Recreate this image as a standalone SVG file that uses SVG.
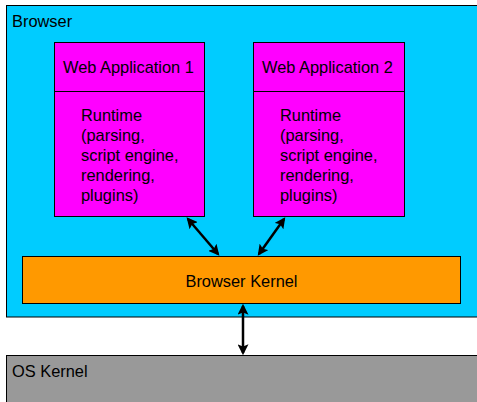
<svg xmlns="http://www.w3.org/2000/svg" width="477" height="402" viewBox="0 0 477 402">
<defs>
<marker id="ah" viewBox="0 0 10 10" refX="8" refY="5" markerWidth="4.4" markerHeight="4.4" orient="auto-start-reverse" markerUnits="strokeWidth">
<path d="M0,0 L10,5 L0,10 L2,5 z" fill="#000"/>
</marker>
<style>
text{font-family:"Liberation Sans",Arial,sans-serif;font-size:16.4px;fill:#000}
.box{stroke:#000;stroke-width:1}
.con{stroke:#000;stroke-width:2.5;fill:none;marker-start:url(#ah);marker-end:url(#ah)}
</style>
</defs>
<rect width="477" height="402" fill="#fff"/>
<g id="os-kernel">
<rect class="box" x="6.5" y="355.5" width="480" height="60" fill="#999999"/>
<text x="12" y="377">OS Kernel</text>
</g>
<g id="browser">
<rect class="box" x="6.5" y="5.5" width="480" height="311.5" fill="#00CCFF"/>
<text x="12" y="27">Browser</text>
</g>
<g id="web-app-1">
<rect class="box" x="54.5" y="42.5" width="150" height="174" fill="#FF00FF"/>
<line class="box" x1="54.5" y1="91.5" x2="204.5" y2="91.5"/>
<text x="63" y="73">Web Application 1</text>
<text x="81" y="121">Runtime</text>
<text x="81" y="141">(parsing,</text>
<text x="81" y="161">script engine,</text>
<text x="81" y="181">rendering,</text>
<text x="81" y="201">plugins)</text>
</g>
<g id="web-app-2">
<rect class="box" x="253.5" y="42.5" width="151" height="174" fill="#FF00FF"/>
<line class="box" x1="253.5" y1="91.5" x2="404.5" y2="91.5"/>
<text x="262" y="73">Web Application 2</text>
<text x="280" y="121">Runtime</text>
<text x="280" y="141">(parsing,</text>
<text x="280" y="161">script engine,</text>
<text x="280" y="181">rendering,</text>
<text x="280" y="201">plugins)</text>
</g>
<g id="browser-kernel">
<rect class="box" x="22.5" y="256.5" width="438" height="47" fill="#FF9900"/>
<text x="241.5" y="287" text-anchor="middle">Browser Kernel</text>
</g>
<g id="connectors">
<line class="con" x1="188" y1="219" x2="218" y2="254"/>
<line class="con" x1="284" y1="219" x2="259" y2="254"/>
<line class="con" x1="243" y1="306" x2="243" y2="353"/>
</g>
</svg>
